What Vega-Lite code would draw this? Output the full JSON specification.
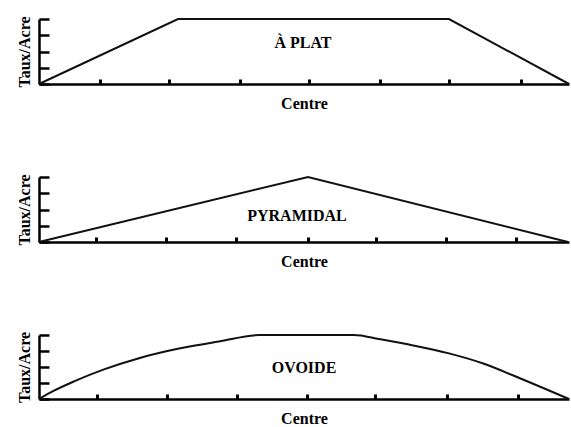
{
  "$schema": "https://vega.github.io/schema/vega-lite/v6.json",
  "background": "white",
  "padding": {"left": 16, "top": 15, "right": 0, "bottom": 0},
  "bounds": "flush",
  "spacing": 93,
  "config": {
    "view": {"stroke": null},
    "font": "Liberation Serif",
    "axis": {
      "grid": false,
      "labels": false,
      "ticks": true,
      "domainColor": "#000",
      "domainWidth": 2.5,
      "tickColor": "#000",
      "titleFont": "Liberation Serif",
      "titleFontSize": 16,
      "titleFontWeight": "bold",
      "titleColor": "#000"
    },
    "axisX": {"tickSize": -5, "tickWidth": 3, "titlePadding": 10},
    "axisY": {"tickSize": -10, "tickWidth": 2.5, "titlePadding": 5, "tickCount": 10},
    "text": {"font": "Liberation Serif", "fontSize": 16, "fontWeight": "bold", "color": "#000"}
  },
  "datasets": {
    "plat": [
      {"x": 0, "y": 0}, {"x": 139, "y": 4}, {"x": 410, "y": 4}, {"x": 530, "y": 0}
    ],
    "pyramidal": [
      {"x": 0, "y": 0}, {"x": 269, "y": 4}, {"x": 529, "y": 0}
    ],
    "ovoide": [
      {"x": 0, "y": 0}, {"x": 15, "y": 0.52}, {"x": 35, "y": 1.1}, {"x": 65, "y": 1.85},
      {"x": 100, "y": 2.55}, {"x": 140, "y": 3.15}, {"x": 180, "y": 3.6}, {"x": 221, "y": 4},
      {"x": 315, "y": 4}, {"x": 340, "y": 3.75}, {"x": 370, "y": 3.4}, {"x": 410, "y": 2.85},
      {"x": 445, "y": 2.2}, {"x": 475, "y": 1.45}, {"x": 503, "y": 0.72}, {"x": 530, "y": 0}
    ],
    "labels": [
      {"panel": "plat", "x": 264, "y": 2.5, "text": "À PLAT"},
      {"panel": "pyramidal", "x": 258, "y": 1.6, "text": "PYRAMIDAL"},
      {"panel": "ovoide", "x": 265, "y": 1.94, "text": "OVOIDE"}
    ]
  },
  "vconcat": [
    {
      "width": 530, "height": 65,
      "layer": [
        {
          "data": {"name": "plat"},
          "mark": {"type": "line", "color": "#111", "strokeWidth": 2},
          "encoding": {
            "x": {"field": "x", "type": "quantitative", "scale": {"domain": [0, 530], "nice": false},
                  "axis": {"title": "Centre", "values": [61, 130, 201, 270, 341, 410, 482]}},
            "y": {"field": "y", "type": "quantitative", "scale": {"domain": [0, 4], "nice": false},
                  "axis": {"title": "Taux/Acre", "values": [0, 1, 2, 3, 4]}}
          }
        },
        {
          "data": {"name": "labels"},
          "transform": [{"filter": "datum.panel === 'plat'"}],
          "mark": {"type": "text"},
          "encoding": {
            "x": {"field": "x", "type": "quantitative"},
            "y": {"field": "y", "type": "quantitative"},
            "text": {"field": "text"}
          }
        }
      ]
    },
    {
      "width": 530, "height": 65,
      "layer": [
        {
          "data": {"name": "pyramidal"},
          "mark": {"type": "line", "color": "#111", "strokeWidth": 2},
          "encoding": {
            "x": {"field": "x", "type": "quantitative", "scale": {"domain": [0, 530], "nice": false},
                  "axis": {"title": "Centre", "values": [57, 127, 197, 269, 337, 407, 477]}},
            "y": {"field": "y", "type": "quantitative", "scale": {"domain": [0, 4], "nice": false},
                  "axis": {"title": "Taux/Acre", "values": [0, 1, 2, 3, 4]}}
          }
        },
        {
          "data": {"name": "labels"},
          "transform": [{"filter": "datum.panel === 'pyramidal'"}],
          "mark": {"type": "text"},
          "encoding": {
            "x": {"field": "x", "type": "quantitative"},
            "y": {"field": "y", "type": "quantitative"},
            "text": {"field": "text"}
          }
        }
      ]
    },
    {
      "width": 530, "height": 64,
      "layer": [
        {
          "data": {"name": "ovoide"},
          "mark": {"type": "line", "color": "#111", "strokeWidth": 2, "interpolate": "monotone"},
          "encoding": {
            "x": {"field": "x", "type": "quantitative", "scale": {"domain": [0, 530], "nice": false},
                  "axis": {"title": "Centre", "values": [58, 128, 198, 268, 336, 408, 479]}},
            "y": {"field": "y", "type": "quantitative", "scale": {"domain": [0, 4], "nice": false},
                  "axis": {"title": "Taux/Acre", "values": [0, 1, 2, 3, 4]}}
          }
        },
        {
          "data": {"name": "labels"},
          "transform": [{"filter": "datum.panel === 'ovoide'"}],
          "mark": {"type": "text"},
          "encoding": {
            "x": {"field": "x", "type": "quantitative"},
            "y": {"field": "y", "type": "quantitative"},
            "text": {"field": "text"}
          }
        }
      ]
    }
  ]
}
